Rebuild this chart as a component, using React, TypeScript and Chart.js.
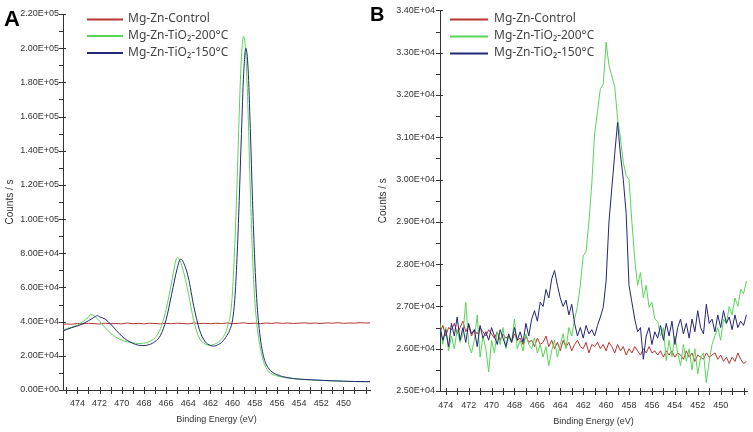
import React, { useEffect, useRef } from 'react';
import { Chart, registerables } from 'chart.js';

Chart.register(...registerables);

// ---------- labels ----------
const SERIES_LABELS = ['Mg-Zn-Control', 'Mg-Zn-TiO\u2082-200\u00B0C', 'Mg-Zn-TiO\u2082-150\u00B0C'];
const SERIES_COLORS = ['#b8342f', '#58d458', '#23267a'];
const X_TITLE = 'Binding Energy (eV)';
const Y_TITLE = 'Counts / s';

// ---------- Panel A data ----------
const A_CONTROL_E = [
  475.5, 475, 474.5, 474, 473.5, 473, 472.5, 472, 471.5, 471,
  470.5, 470, 469.5, 469, 468.5, 468, 467.5, 467, 466.5, 466,
  465.5, 465, 464.5, 464, 463.5, 463, 462.5, 462, 461.5, 461,
  460.5, 460, 459.5, 459, 458.5, 458, 457.5, 457, 456.5, 456,
  455.5, 455, 454.5, 454, 453.5, 453, 452.5, 452, 451.5, 451,
  450.5, 450, 449.5, 449, 448.5, 448, 447.5,
];
const A_CONTROL = [
  38300, 38600, 38500, 38900, 38700, 39000, 38800, 38600, 39100, 38800,
  38900, 38700, 39200, 38800, 39000, 38700, 39100, 38900, 38700, 39000,
  38800, 39100, 38900, 38700, 39200, 38900, 39000, 38800, 39100, 38900,
  39200, 38900, 39000, 39300, 38900, 39100, 38800, 39200, 39000, 39300,
  39000, 39200, 38900, 39100, 39300, 39000, 39200, 38900, 39300, 39100,
  39400, 39000, 39200, 39100, 39400, 39200, 39300,
];

const A_200_E = [
  475.3, 475, 474.5, 474, 473.5, 473, 472.8, 472.5, 472, 471.5,
  471, 470.5, 470, 469.5, 469, 468.5, 468, 467.5, 467, 466.5,
  466, 465.5, 465.2, 465, 464.8, 464.5, 464, 463.5, 463, 462.5,
  462, 461.5, 461, 460.6, 460.4, 460.2, 460.0, 459.8, 459.6, 459.4,
  459.2, 459.0, 458.8, 458.6, 458.4, 458.2, 458.0, 457.8, 457.6, 457.4,
  457.2, 457.0, 456.6, 456, 455, 454, 453, 452, 451, 450,
  449, 448, 447.6,
];
const A_200 = [
  35000, 35800, 36800, 38000, 40000, 42800, 44200, 43500, 40200, 36500,
  33200, 30800, 29200, 28200, 27600, 27200, 27400, 28300, 30500, 36000,
  47000, 63000, 73500, 77500, 76500, 71000, 57000, 40500, 30500, 27000,
  26300, 27200, 29800, 34000, 38500, 44000, 58000, 85000, 120000, 162000,
  195000, 207000, 196000, 162000, 117000, 79000, 53000, 38000, 28500, 21500,
  16500, 13200, 10000, 8300, 7000, 6300, 5900, 5600, 5300, 5100,
  4900, 4800, 4800,
];

const A_150_E = [
  475.3, 475, 474.5, 474, 473.5, 473, 472.5, 472.2, 472, 471.5,
  471, 470.5, 470, 469.5, 469, 468.5, 468, 467.5, 467, 466.5,
  466, 465.5, 465, 464.7, 464.5, 464, 463.5, 463, 462.5, 462,
  461.7, 461.5, 461, 460.5, 460.2, 460.0, 459.8, 459.6, 459.4, 459.2,
  459.0, 458.8, 458.6, 458.4, 458.2, 458.0, 457.8, 457.6, 457.4, 457.2,
  457.0, 456.6, 456, 455, 454, 453, 452, 451, 450, 449,
  448, 447.6,
];
const A_150 = [
  34500, 35300, 36500, 37500, 38800, 40500, 42500, 43500, 42800, 41500,
  38500, 35000, 31500, 29000, 27300, 26200, 26000, 26600, 28300, 32000,
  41000, 56000, 71000, 76500, 75500, 66000, 49000, 35500, 28500, 26000,
  25700, 26000, 27800, 32000, 36000, 41000, 53000, 77000, 111000, 150000,
  185000, 200000, 188000, 153000, 111000, 76000, 51000, 36000, 26000, 19500,
  15500, 11500, 9000, 7200, 6400, 6000, 5700, 5400, 5200, 5000,
  4900, 4900,
];

// ---------- Panel B data (sampled every 0.25 eV from 474.5 eV downward) ----------
const B_START_E = 474.5;
const B_STEP_E = 0.25;
const B_CONTROL = [
  26400, 26550, 26300, 26500, 26450, 26600, 26350, 26500, 26650, 26400, 26550, 26300,
  26450, 26350, 26500, 26400, 26300, 26450, 26350, 26250, 26400, 26200, 26350, 26250,
  26300, 26150, 26350, 26200, 26250, 26100, 26300, 26150, 26200, 26050, 26250, 26100,
  26150, 26300, 26050, 26200, 26000, 26150, 25950, 26200, 26050, 26150, 25950, 26100,
  26200, 26050, 26000, 26150, 25900, 26100, 26050, 26150, 26000, 26100, 25950, 26150,
  26050, 25900, 26100, 25950, 26050, 25850, 26000, 25900, 26050, 25950, 25850, 26000,
  25900, 26050, 25900, 25950, 25850, 25950, 25800, 25950, 25850, 25950, 25800, 25900,
  25850, 25750, 25950, 25800, 25900, 25700, 25850, 25800, 25750, 25900, 25800, 25850,
  25900, 25750, 25850, 25700, 25800, 25650, 25800, 25700, 25900, 25750, 25650, 25700,
];
const B_200 = [
  26600, 26100, 26500, 25950, 26300, 26000, 26450, 26150, 26350, 27100, 26100, 25900,
  26200, 26800, 25800, 26300, 26000, 25450, 26200, 25900, 26400, 26100, 26500, 26000,
  26300, 26150, 26700, 26000, 26200, 25950, 26350, 26100, 26000, 26250, 25900, 26100,
  25800, 26050, 25600, 25950, 26200, 25800, 26100, 26350, 26000, 26500, 26300, 26700,
  27000, 27500, 28200, 28300, 29000, 29900, 31100, 31600, 32150, 32250, 33250, 32700,
  32450, 32200, 31450, 31000, 30400, 30100, 30000, 29000, 28100, 27500, 27800, 27200,
  27500, 26980, 27100, 26700, 26650, 26300, 26500, 25720, 26200, 25800, 26300, 25900,
  25600, 26100, 25700, 26000, 25500, 26000, 25400, 25800, 25900, 25200, 25700, 26100,
  26300, 26500, 26200, 26700, 26600, 27000, 26800, 27200, 27000, 27400, 27300, 27600,
];
const B_150 = [
  26500, 26200, 26450, 26050, 26600, 26300, 26750, 26200, 26500, 26150, 26600, 26350,
  26450, 26050, 26550, 26250, 26400, 26200, 26500, 26300, 26100, 26450, 26250, 26050,
  26350, 26150, 26500, 26200, 26400, 26150, 26600, 26300, 26700, 26900, 26650, 27100,
  27000, 27400, 27200, 27650, 27850, 27500, 27200, 27000, 27150, 26800, 27050, 26600,
  26300, 26500, 26250, 26550, 26350, 26450, 26300, 26550, 26750, 26980, 27600, 29000,
  29800, 30600, 31350, 30600, 30000, 29200, 27500, 27100, 26700, 26400, 26500, 25750,
  26300, 26500, 26100, 26400, 26250, 26550, 26200, 26600, 26300, 26650, 26100, 26500,
  26700, 26350, 26600, 26250, 26700, 26400, 26900, 26500, 26350, 27050, 26600, 26700,
  26400, 26800, 26500, 26900, 26600, 26750, 26450, 26800, 26500, 26650, 26550, 26800,
];

// ---------- helpers ----------
function fmtExp(v: number): string {
  const [m, e] = v.toExponential(2).split('e');
  const sign = e[0];
  const digits = e.slice(1).padStart(2, '0');
  return `${m}E${sign}${digits}`;
}

function pairs(xs: number[], ys: number[]) {
  return ys.map((y, i) => ({ x: xs[i], y }));
}

const B_ENERGY = B_CONTROL.map((_, i) => B_START_E - B_STEP_E * i);

const decorPlugin = {
  id: 'decor',
  afterDatasetsDraw(chart: any, _args: any, opts: any) {
    const ctx = chart.ctx;
    const ca = chart.chartArea;
    const xs = chart.scales.x;
    const ys = chart.scales.y;
    ctx.save();
    // tick marks
    ctx.strokeStyle = '#333';
    ctx.lineWidth = 1;
    ctx.beginPath();
    xs.ticks.forEach((t: any) => {
      const px = Math.round(xs.getPixelForValue(t.value)) + 0.5;
      ctx.moveTo(px, ca.bottom - 3);
      ctx.lineTo(px, ca.bottom + 4);
    });
    ys.ticks.forEach((t: any) => {
      const py = Math.round(ys.getPixelForValue(t.value)) + 0.5;
      const major = t.label !== '' && t.label !== undefined;
      ctx.moveTo(ca.left - 4, py);
      ctx.lineTo(ca.left + (major ? 3 : 0), py);
    });
    ctx.stroke();

    // axis titles
    ctx.fillStyle = '#333';
    ctx.textAlign = 'center';
    ctx.textBaseline = 'middle';
    ctx.font = '9px "Liberation Sans", Arial, sans-serif';
    ctx.fillText(X_TITLE, (ca.left + ca.right) / 2, ca.bottom + opts.xTitleOffset);
    ctx.save();
    ctx.translate(opts.yTitleX, (ca.top + ca.bottom) / 2);
    ctx.rotate(-Math.PI / 2);
    ctx.font = '10px "Liberation Sans", Arial, sans-serif';
    ctx.fillText(Y_TITLE, 0, 0);
    ctx.restore();

    // panel letter
    ctx.fillStyle = '#000';
    ctx.textAlign = 'left';
    ctx.textBaseline = 'alphabetic';
    ctx.font = `bold ${opts.letterSize}px "Liberation Sans", Arial, sans-serif`;
    ctx.fillText(opts.letter, opts.letterX, opts.letterY);

    // legend
    const lg = opts.legend;
    ctx.font = '12px "Noto Sans", "Open Sans", sans-serif';
    ctx.textBaseline = 'middle';
    SERIES_LABELS.forEach((label, i) => {
      const y = lg.rows[i];
      ctx.strokeStyle = SERIES_COLORS[i];
      ctx.lineWidth = 2;
      ctx.beginPath();
      ctx.moveTo(lg.x0, y + 0.5);
      ctx.lineTo(lg.x1, y + 0.5);
      ctx.stroke();
      ctx.fillStyle = '#444';
      ctx.fillText(label, lg.tx, y);
    });
    ctx.restore();
  },
};

function makeConfig(p: any): any {
  return {
    type: 'line',
    data: {
      datasets: p.datasets.map((d: any, i: number) => ({
        label: SERIES_LABELS[i],
        data: d,
        borderColor: SERIES_COLORS[i],
        backgroundColor: SERIES_COLORS[i],
        borderWidth: 1,
        pointRadius: 0,
        fill: false,
        order: [2, 1, 0][i],
        tension: p.smooth && i > 0 ? 0.4 : 0,
        cubicInterpolationMode: p.smooth && i > 0 ? 'monotone' : 'default',
      })),
    },
    options: {
      responsive: false,
      animation: false,
      events: [],
      layout: { padding: p.padding },
      plugins: {
        legend: { display: false },
        tooltip: { enabled: false },
        decor: p.decor,
      },
      scales: {
        x: {
          type: 'linear',
          reverse: true,
          min: p.xMin,
          max: p.xMax,
          grid: { display: false, drawTicks: false },
          border: { display: true, color: '#333', width: 1 },
          ticks: {
            stepSize: 1,
            includeBounds: false,
            autoSkip: false,
            maxRotation: 0,
            maxTicksLimit: 100,
            padding: p.xTickPad,
            color: '#333',
            font: { family: '"Liberation Sans", Arial, sans-serif', size: 9 },
            callback: (v: number) => {
              const r = Math.round(v);
              return r % 2 === 0 && r >= 450 && r <= 474 ? String(r) : '';
            },
          },
          afterFit: (s: any) => { s.height = p.xHeight; },
        },
        y: {
          type: 'linear',
          min: p.yMin,
          max: p.yMax,
          grid: { display: false, drawTicks: false },
          border: { display: true, color: '#333', width: 1 },
          ticks: {
            stepSize: p.yMinor,
            maxTicksLimit: 100,
            autoSkip: false,
            padding: p.yTickPad,
            color: '#333',
            font: { family: '"Liberation Sans", Arial, sans-serif', size: 9 },
            callback: (v: number) => {
              const k = Math.round(v / p.yMinor);
              return k % 2 === 0 ? fmtExp(v) : '';
            },
          },
          afterFit: (s: any) => { s.width = p.yWidth; },
        },
      },
    },
    plugins: [decorPlugin],
  };
}

const configA = makeConfig({
  datasets: [pairs(A_CONTROL_E, A_CONTROL), pairs(A_200_E, A_200), pairs(A_150_E, A_150)],
  smooth: true,
  padding: { left: 0, top: 14, right: 6, bottom: 0 },
  xMin: 447.6,
  xMax: 475.3,
  yMin: 0,
  yMax: 220000,
  yMinor: 10000,
  xHeight: 42,
  yWidth: 63,
  xTickPad: 8,
  yTickPad: 4,
  decor: {
    letter: 'A', letterSize: 22, letterX: 4, letterY: 26,
    yTitleX: 10, xTitleOffset: 30,
    legend: { x0: 87, x1: 123, tx: 128, rows: [19, 35.5, 52.5] },
  },
});

const configB = makeConfig({
  datasets: [pairs(B_ENERGY, B_CONTROL), pairs(B_ENERGY, B_200), pairs(B_ENERGY, B_150)],
  smooth: false,
  padding: { left: 0, top: 8, right: 6, bottom: 0 },
  xMin: 447.7,
  xMax: 474.5,
  yMin: 25000,
  yMax: 34000,
  yMinor: 500,
  xHeight: 41,
  yWidth: 74,
  xTickPad: 9,
  yTickPad: 5,
  decor: {
    letter: 'B', letterSize: 20, letterX: 4, letterY: 21,
    yTitleX: 17, xTitleOffset: 31,
    legend: { x0: 84, x1: 122, tx: 128, rows: [19, 36, 53] },
  },
});

export default function App() {
  const refA = useRef<HTMLCanvasElement>(null);
  const refB = useRef<HTMLCanvasElement>(null);
  useEffect(() => {
    const a = new Chart(refA.current as HTMLCanvasElement, configA);
    const b = new Chart(refB.current as HTMLCanvasElement, configB);
    return () => {
      a.destroy();
      b.destroy();
    };
  }, []);
  return (
    <div style={{ position: 'fixed', left: 0, top: 0, width: 753, height: 432, background: '#fff', overflow: 'hidden' }}>
      <canvas ref={refA} width={376} height={432} style={{ position: 'absolute', left: 0, top: 0 }} />
      <canvas ref={refB} width={387} height={432} style={{ position: 'absolute', left: 366, top: 0 }} />
    </div>
  );
}
